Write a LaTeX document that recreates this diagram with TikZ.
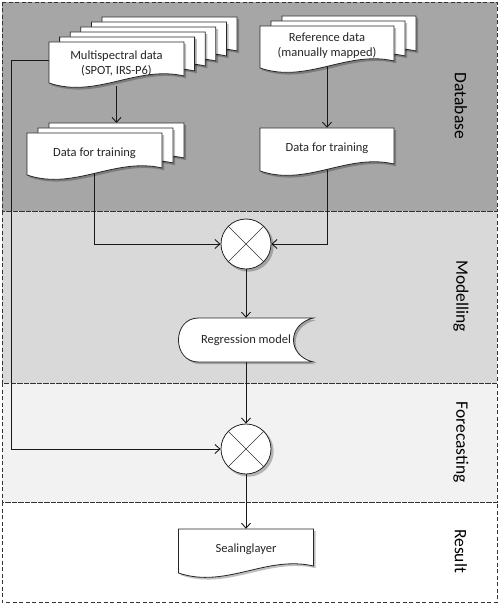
\documentclass[tikz,border=0pt]{standalone}
\usepackage{fontspec}
\setmainfont{Carlito}
\usetikzlibrary{arrows.meta}
\pgfdeclarelayer{bg}
\pgfdeclarelayer{conn}
\pgfsetlayers{bg,conn,main}
\definecolor{dbc}{HTML}{A6A6A6}
\definecolor{mdc}{HTML}{D9D9D9}
\definecolor{fcc}{HTML}{F2F2F2}
\newcommand{\docp}[2]{(0,0) -- (#1,0) -- (#1,#2-7) .. controls (0.65*#1,#2-18) and (0.35*#1,#2+16) .. (0,#2) -- cycle}
\newcommand{\docsheet}[4]{%
\begin{scope}[shift={(#1,#2)}]
\begin{scope}[shift={(2.2,2.2)}]\fill[shad] \docp{#3}{#4};\end{scope}
\draw[shp] \docp{#3}{#4};
\end{scope}}
\tikzset{
  shad/.style={black,opacity=0.25},
  shp/.style={draw=black!85,fill=white,line width=0.8pt},
  frame/.style={draw=black!80,line width=0.8pt,dash pattern=on 4pt off 2.5pt},
  txt/.style={font=\fontsize{12.5}{15}\selectfont,text=black!85,align=center,inner sep=0pt,minimum width=135pt},
  lbl/.style={font=\fontsize{17.5}{20}\selectfont,text=black,rotate=-90,inner sep=0pt},
  arr/.style={draw=black!90,line width=0.9pt,-{Straight Barb[length=5pt,width=9pt,line width=0.9pt]}},
  ln/.style={draw=black!90,line width=0.9pt},
  xcirc/.style={circle,draw=black!85,fill=white,line width=0.8pt,minimum size=50pt,inner sep=0pt,
    path picture={\draw[black!80,line width=0.5pt] (path picture bounding box.north west) -- (path picture bounding box.south east)
      (path picture bounding box.north east) -- (path picture bounding box.south west);}}
}
\begin{document}
\begin{tikzpicture}[x=1pt,y=-1pt]
\useasboundingbox (0,0) rectangle (500,604);
% bands
\begin{pgfonlayer}{bg}
\fill[dbc] (2,2) rectangle (497,211);
\fill[mdc] (2,211) rectangle (497,383);
\fill[fcc] (2,383) rectangle (497,502);
\fill[white] (2,502) rectangle (497,602);
\draw[frame] (2,2) rectangle (497,211);
\draw[frame] (2,211) rectangle (497,383);
\draw[frame] (2,383) rectangle (497,502);
\draw[frame] (2,502) rectangle (497,602);
\end{pgfonlayer}
% band labels
\node[lbl] (lDB) at (461,106) {Database};
\node[lbl] (lMO) at (461,296) {Modelling};
\node[lbl] (lFO) at (461,442) {Forecasting};
\node[lbl] (lRE) at (461,551) {Result};
% multispectral stack
\docsheet{102}{17}{135}{41}
\docsheet{91.4}{22}{135}{41}
\docsheet{80.8}{27}{135}{41}
\docsheet{70.2}{32}{135}{41}
\docsheet{59.6}{37}{135}{41}
\docsheet{49}{42}{135}{41}
\node[txt,minimum height=44pt] (ms) at (116.5,64) {Multispectral data\\(SPOT, IRS-P6)};
% data for training left
\docsheet{49}{123}{135}{42}
\docsheet{38}{128}{135}{42}
\docsheet{27}{133}{135}{42}
\node[txt,minimum height=40pt] (dft1) at (94.5,153) {Data for training};
% reference stack
\docsheet{282}{16}{134}{42}
\docsheet{271}{21}{134}{42}
\docsheet{260}{26}{134}{42}
\node[txt,minimum height=40pt] (ref) at (327,46) {Reference data\\(manually mapped)};
% data for training right
\docsheet{260}{128}{134}{43}
\node[txt,minimum height=40pt] (dft2) at (327,148) {Data for training};
% circles
\fill[shad] (248.2,246.2) circle (25.5);
\node[xcirc] (c1) at (246,244) {};
\fill[shad] (248.2,451.2) circle (25.5);
\node[xcirc] (c2) at (246,449) {};
% regression model
\begin{scope}[shift={(2.2,2.2)}]
\fill[shad] (198.5,318) -- (313.5,318) .. controls (286.8,324) and (286.8,356) .. (313.5,362) -- (198.5,362) .. controls (171.8,362) and (171.8,318) .. cycle;
\end{scope}
\draw[shp] (198.5,318) -- (313.5,318) .. controls (286.8,324) and (286.8,356) .. (313.5,362) -- (198.5,362) .. controls (171.8,362) and (171.8,318) .. cycle;
\node[txt,minimum height=44pt] (reg) at (246,340) {Regression model};
% sealinglayer
\docsheet{178.5}{529}{135}{44}
\node[txt,minimum height=40pt] (seal) at (246,549) {Sealinglayer};
% coordinates
\coordinate (dfttop) at (116.5,123);
\coordinate (lft) at (11,60);
\coordinate (msl) at ([yshift=4pt]ms.west);
% connectors
\begin{pgfonlayer}{conn}
\draw[arr] (ms.south) -- (dfttop);
\draw[arr] (ref.south) -- (ref.south |- dft2.north);
\draw[arr] (dft1.south) |- (c1.west);
\draw[arr] (dft2.south) |- (c1.east);
\draw[arr] (c1.south) -- (reg.north);
\draw[arr] (reg.south) -- (c2.north);
\draw[arr] (c2.south) -- (seal.north);
\draw[arr] (msl) -- (msl -| lft) -- (lft |- c2.west) -- (c2.west);
\end{pgfonlayer}
\end{tikzpicture}
\end{document}
